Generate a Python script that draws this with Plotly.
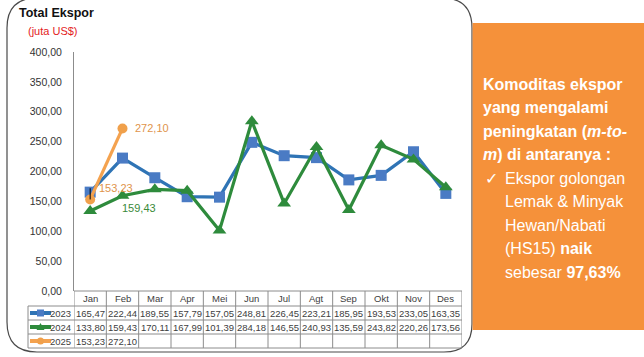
import plotly.graph_objects as go

months = ["Jan", "Feb", "Mar", "Apr", "Mei", "Jun", "Jul", "Agt", "Sep", "Okt", "Nov", "Des"]
years = ["2023", "2024", "2025"]
v2023 = [165.47, 222.44, 189.55, 157.79, 157.05, 248.81, 226.45, 223.21, 185.95, 193.53, 233.05, 163.35]
v2024 = [133.80, 159.43, 170.11, 167.99, 101.39, 284.18, 146.55, 240.93, 135.59, 243.82, 220.26, 173.56]
v2025 = [153.23, 272.10]
yticks = [0, 50, 100, 150, 200, 250, 300, 350, 400]

series = [v2023, v2024, v2025]
line_colors = ["#2F74B5", "#2E8B3C", "#F4A24F"]
marker_colors = ["#4A7BC4", "#2E8B3C", "#F0A04B"]
symbols = ["square", "triangle-up", "circle"]
msizes = [11, 12, 10]

FONT = "Liberation Sans, Arial, sans-serif"
L, R, T, B = 74, 462, 52, 291
W, H = R - L, B - T


def px(x):
    return (x - L) / W


def py(y):
    return (B - y) / H


def fmt(v):
    return f"{v:.2f}".replace(".", ",")


fig = go.Figure()
xs = list(range(len(months)))
for i, (name, vals) in enumerate(zip(years, series)):
    fig.add_trace(go.Scatter(
        x=xs[:len(vals)], y=vals, name=name, mode="lines+markers",
        line=dict(color=line_colors[i], width=3.2),
        marker=dict(symbol=symbols[i], size=msizes[i], color=marker_colors[i]),
        cliponaxis=False, showlegend=False, hoverinfo="skip",
    ))

shapes = []
# card border
path = (f"M {px(7)},{py(28)} Q {px(7)},{py(-2)} {px(37)},{py(-2)} "
        f"L {px(442)},{py(-2)} Q {px(472)},{py(-2)} {px(472)},{py(28)} "
        f"L {px(472)},{py(324)} Q {px(472)},{py(352)} {px(444)},{py(352)} "
        f"L {px(37)},{py(352)} Q {px(7)},{py(352)} {px(7)},{py(322)} Z")
shapes.append(dict(type="path", xref="paper", yref="paper", path=path,
                   line=dict(color="#4A4A4A", width=1.2), fillcolor="rgba(0,0,0,0)"))
# orange box
shapes.append(dict(type="rect", xref="paper", yref="paper",
                   x0=px(472.6), x1=px(650), y0=py(23), y1=py(330),
                   fillcolor="#F5913A", line=dict(width=0)))

grid = "#8C8C8C"
rows_y = [291, 306, 320, 334, 348]
for j, yy in enumerate(rows_y):
    x0 = L if j == 0 else 28
    shapes.append(dict(type="line", xref="paper", yref="paper",
                       x0=px(x0), x1=px(R), y0=py(yy), y1=py(yy),
                       line=dict(color=grid, width=1)))
shapes.append(dict(type="line", xref="paper", yref="paper",
                   x0=px(28), x1=px(28), y0=py(306), y1=py(348),
                   line=dict(color=grid, width=1)))
for k in range(len(months) + 1):
    shapes.append(dict(type="line", xref="x", yref="paper",
                       x0=k - 0.5, x1=k - 0.5, y0=py(291), y1=py(348),
                       line=dict(color=grid, width=1)))

# leader line at Jan 2025
shapes.append(dict(type="line", xref="x", yref="y", x0=0, x1=0,
                   y0=v2025[0], y1=172, line=dict(color="black", width=1)))

annotations = []
row_centers = [313, 327, 341]
# legend keys
for i, yc in enumerate(row_centers):
    shapes.append(dict(type="line", xref="paper", yref="paper",
                       x0=px(30), x1=px(51), y0=py(yc), y1=py(yc),
                       line=dict(color=line_colors[i], width=4)))
    if i == 0:
        shapes.append(dict(type="rect", xref="paper", yref="paper",
                           x0=px(37), x1=px(44), y0=py(yc - 3.5), y1=py(yc + 3.5),
                           fillcolor=marker_colors[i], line=dict(width=0)))
    elif i == 1:
        shapes.append(dict(type="path", xref="paper", yref="paper",
                           path=f"M {px(36.5)},{py(yc + 3)} L {px(44.5)},{py(yc + 3)} L {px(40.5)},{py(yc - 4)} Z",
                           fillcolor=marker_colors[i], line=dict(width=0)))
    else:
        shapes.append(dict(type="circle", xref="paper", yref="paper",
                           x0=px(37), x1=px(44), y0=py(yc - 3.5), y1=py(yc + 3.5),
                           fillcolor=marker_colors[i], line=dict(width=0)))
    annotations.append(dict(xref="paper", yref="paper", x=px(73), y=py(yc),
                            text=years[i], showarrow=False, xanchor="right", yanchor="middle",
                            font=dict(family=FONT, size=9.5, color="#404040")))

# header
for k, m in enumerate(months):
    annotations.append(dict(xref="x", yref="paper", x=k, y=py(298.5), text=m,
                            showarrow=False, xanchor="center", yanchor="middle",
                            font=dict(family=FONT, size=9.5, color="#404040")))
# values
for i, vals in enumerate(series):
    for k, v in enumerate(vals):
        annotations.append(dict(xref="x", yref="paper", x=k, y=py(row_centers[i]), text=fmt(v),
                                showarrow=False, xanchor="center", yanchor="middle",
                                font=dict(family=FONT, size=9.5, color="#404040")))

# data labels
annotations.append(dict(xref="x", yref="y", x=1, y=v2025[1], text=fmt(v2025[1]),
                        showarrow=False, xanchor="left", yanchor="middle", xshift=10,
                        font=dict(family=FONT, size=11, color="#E0944C")))
annotations.append(dict(xref="x", yref="y", x=0, y=v2025[0], text=fmt(v2025[0]),
                        showarrow=False, xanchor="left", yanchor="middle", xshift=7, yshift=11,
                        font=dict(family=FONT, size=11, color="#E0944C")))
annotations.append(dict(xref="x", yref="y", x=1, y=v2024[1], text=fmt(v2024[1]),
                        showarrow=False, xanchor="left", yanchor="middle", xshift=-3, yshift=-12,
                        font=dict(family=FONT, size=11, color="#3A8A3A")))

# titles
annotations.append(dict(xref="paper", yref="paper", x=px(17), y=py(13), text="<b>Total Ekspor</b>",
                        showarrow=False, xanchor="left", yanchor="middle",
                        font=dict(family=FONT, size=12.5, color="#111111")))
annotations.append(dict(xref="paper", yref="paper", x=px(26), y=py(31), text="(juta US$)",
                        showarrow=False, xanchor="left", yanchor="middle",
                        font=dict(family=FONT, size=11, color="#E31B23")))

# orange box text
box_lines = [
    (481, 84, "<b>Komoditas ekspor</b>"),
    (481, 107.5, "<b>yang mengalami</b>"),
    (481, 131, "<b>peningkatan (<i>m-to-</i></b>"),
    (481, 154.5, "<b><i>m</i>) di antaranya :</b>"),
    (483, 178, "✓"),
    (503, 178, "Ekspor golongan"),
    (503, 201.5, "Lemak &amp; Minyak"),
    (503, 225, "Hewan/Nabati"),
    (503, 248.5, "(HS15) <b>naik</b>"),
    (503, 272, "sebesar <b>97,63%</b>"),
]
for x, y, t in box_lines:
    annotations.append(dict(xref="paper", yref="paper", x=px(x), y=py(y), text=t,
                            showarrow=False, xanchor="left", yanchor="middle",
                            font=dict(family=FONT, size=16, color="#FFFFFF")))

fig.update_layout(
    width=644, height=357, autosize=False,
    margin=dict(l=L, r=644 - R, t=T, b=357 - B),
    paper_bgcolor="white", plot_bgcolor="white",
    hovermode=False,
    xaxis=dict(range=[-0.5, 11.5], showticklabels=False, showgrid=False,
               zeroline=False, showline=False, fixedrange=True),
    yaxis=dict(range=[0, 400], tickvals=yticks, ticktext=[fmt(v) for v in yticks],
               showgrid=False, zeroline=False, showline=True, linecolor=grid, linewidth=1,
               ticks="", ticklabelstandoff=9, fixedrange=True,
               tickfont=dict(family=FONT, size=10.5, color="#333333")),
    shapes=shapes, annotations=annotations,
)

fig.write_html("out.html", config={"displayModeBar": False, "staticPlot": True},
               post_script="document.body.style.margin='0';document.body.style.padding='0';")
